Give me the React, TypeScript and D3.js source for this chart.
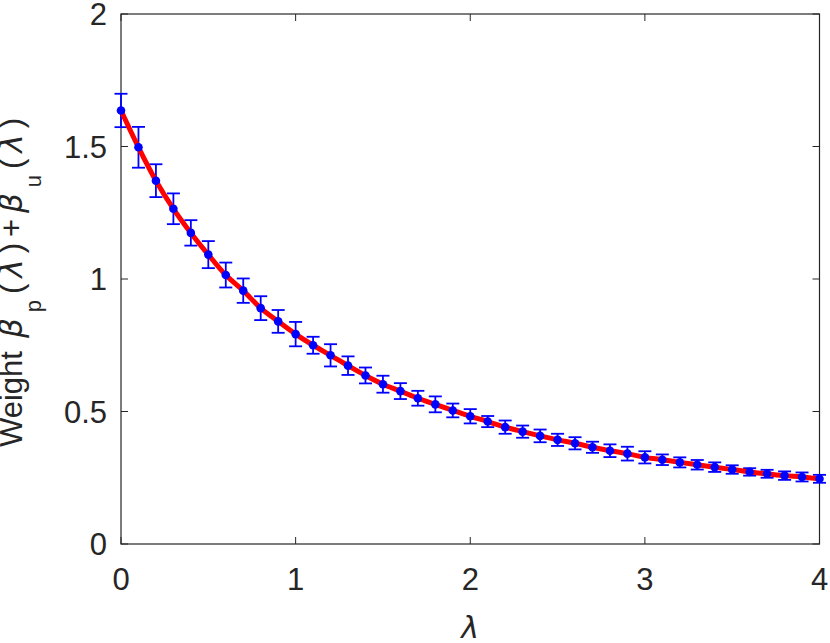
import * as d3 from 'd3'
import { useEffect, useRef } from 'react'

const lambdas = [
    0, 0.1, 0.2, 0.3, 0.4, 0.5, 0.6, 0.7, 0.8, 0.9, 1, 1.1, 1.2, 1.3, 1.4, 1.5,
    1.6, 1.7, 1.8, 1.9, 2, 2.1, 2.2, 2.3, 2.4, 2.5, 2.6, 2.7, 2.8, 2.9, 3, 3.1,
    3.2, 3.3, 3.4, 3.5, 3.6, 3.7, 3.8, 3.9, 4,
]

const weights = [
    1.636, 1.497, 1.371, 1.265, 1.174, 1.092, 1.015, 0.956, 0.89, 0.84, 0.792,
    0.75, 0.712, 0.673, 0.636, 0.603, 0.577, 0.55, 0.527, 0.504, 0.482, 0.462,
    0.441, 0.424, 0.408, 0.393, 0.38, 0.365, 0.352, 0.341, 0.327, 0.318, 0.308,
    0.299, 0.29, 0.281, 0.272, 0.265, 0.258, 0.253, 0.246,
]

const errors = [
    0.063, 0.077, 0.062, 0.058, 0.048, 0.051, 0.047, 0.046, 0.045, 0.043, 0.046,
    0.032, 0.042, 0.035, 0.03, 0.032, 0.03, 0.028, 0.03, 0.026, 0.027, 0.021,
    0.025, 0.023, 0.024, 0.023, 0.023, 0.021, 0.024, 0.026, 0.023, 0.02, 0.019,
    0.018, 0.018, 0.016, 0.014, 0.015, 0.016, 0.017, 0.015,
]

const xTicks = [0, 1, 2, 3, 4]
const yTicks = [0, 0.5, 1, 1.5, 2]

const W = 830
const H = 643
const axisColor = '#262626'
const font = '"Liberation Sans", Arial, Helvetica, sans-serif'
const greek = '"DejaVu Sans", sans-serif'

function App() {
    const ref = useRef<SVGSVGElement>(null)

    useEffect(() => {
        const svg = d3.select(ref.current)
        svg.selectAll('*').remove()

        const x = d3.scaleLinear().domain([0, 4]).range([121, 819.5])
        const y = d3.scaleLinear().domain([0, 2]).range([544, 14])
        const [x0, x1] = x.range()
        const [y0, y1] = y.range()
        const tl = 7

        const data = lambdas.map((l, i) => ({ l, w: weights[i], e: errors[i] }))

        // box
        svg.append('rect')
            .attr('x', x0)
            .attr('y', y1)
            .attr('width', x1 - x0)
            .attr('height', y0 - y1)
            .attr('fill', 'none')
            .attr('stroke', axisColor)
            .attr('stroke-width', 1.2)

        // ticks, inward on all four sides
        const g = svg.append('g').attr('stroke', axisColor).attr('stroke-width', 1)
        xTicks.forEach((t) => {
            g.append('line').attr('x1', x(t)).attr('x2', x(t)).attr('y1', y0).attr('y2', y0 - tl)
            g.append('line').attr('x1', x(t)).attr('x2', x(t)).attr('y1', y1).attr('y2', y1 + tl)
        })
        yTicks.forEach((t) => {
            g.append('line').attr('x1', x0).attr('x2', x0 + tl).attr('y1', y(t)).attr('y2', y(t))
            g.append('line').attr('x1', x1).attr('x2', x1 - tl).attr('y1', y(t)).attr('y2', y(t))
        })

        // tick labels
        svg.append('g')
            .selectAll('text')
            .data(xTicks)
            .join('text')
            .attr('x', (d) => x(d))
            .attr('y', 590)
            .attr('text-anchor', 'middle')
            .attr('font-family', font)
            .attr('font-size', 31)
            .attr('fill', axisColor)
            .text((d) => d3.format('')(d))

        svg.append('g')
            .selectAll('text')
            .data(yTicks)
            .join('text')
            .attr('x', 107)
            .attr('y', (d) => y(d) + 11)
            .attr('text-anchor', 'end')
            .attr('font-family', font)
            .attr('font-size', 31)
            .attr('fill', axisColor)
            .text((d) => d3.format('')(d))

        // error bars
        const eb = svg.append('g').attr('stroke', '#0000ff').attr('stroke-width', 1.8)
        const cap = 6.5
        data.forEach((d) => {
            const cx = x(d.l)
            const top = y(d.w + d.e)
            const bot = y(d.w - d.e)
            eb.append('line').attr('x1', cx).attr('x2', cx).attr('y1', top).attr('y2', bot)
            eb.append('line').attr('x1', cx - cap).attr('x2', cx + cap).attr('y1', top).attr('y2', top)
            eb.append('line').attr('x1', cx - cap).attr('x2', cx + cap).attr('y1', bot).attr('y2', bot)
        })

        // red fit curve
        const line = d3
            .line<{ l: number; w: number }>()
            .x((d) => x(d.l))
            .y((d) => y(d.w))
            .curve(d3.curveMonotoneX)

        svg.append('path')
            .datum(data)
            .attr('d', line)
            .attr('fill', 'none')
            .attr('stroke', '#ff0000')
            .attr('stroke-width', 5)
            .attr('stroke-linejoin', 'round')

        // markers
        svg.append('g')
            .selectAll('circle')
            .data(data)
            .join('circle')
            .attr('cx', (d) => x(d.l))
            .attr('cy', (d) => y(d.w))
            .attr('r', 4.3)
            .attr('fill', '#0000ff')

        // x label
        svg.append('text')
            .attr('x', (x0 + x1) / 2)
            .attr('y', 638)
            .attr('text-anchor', 'middle')
            .attr('font-family', greek)
            .attr('font-style', 'italic')
            .attr('font-size', 30)
            .attr('fill', axisColor)
            .text('λ')

        // y label: plain word, then the spread-out math part
        svg.append('text')
            .attr('transform', 'translate(22,447) rotate(-90)')
            .attr('font-family', font)
            .attr('font-size', 31)
            .attr('fill', axisColor)
            .text('Weight')

        const yl = svg.append('text')
            .attr('transform', 'translate(22,338) rotate(-90)')
            .attr('font-family', font)
            .attr('font-size', 31)
            .attr('fill', axisColor)
            .attr('textLength', 220)
            .attr('lengthAdjust', 'spacing')
        yl.append('tspan').attr('font-family', greek).attr('font-style', 'italic').text('β')
        yl.append('tspan').attr('font-size', 22).attr('dy', 19).text('p')
        yl.append('tspan').attr('dy', -19).text('(')
        yl.append('tspan').attr('font-family', greek).attr('font-style', 'italic').text('λ')
        yl.append('tspan').text(')+')
        yl.append('tspan').attr('font-family', greek).attr('font-style', 'italic').text('β')
        yl.append('tspan').attr('font-size', 22).attr('dy', 19).text('u')
        yl.append('tspan').attr('dy', -19).text('(')
        yl.append('tspan').attr('font-family', greek).attr('font-style', 'italic').text('λ')
        yl.append('tspan').text(')')
    }, [])

    return (
        <svg
            ref={ref}
            width={W}
            height={H}
            style={{ position: 'absolute', left: 0, top: 0, background: '#fff' }}
        />
    )
}

export default App
